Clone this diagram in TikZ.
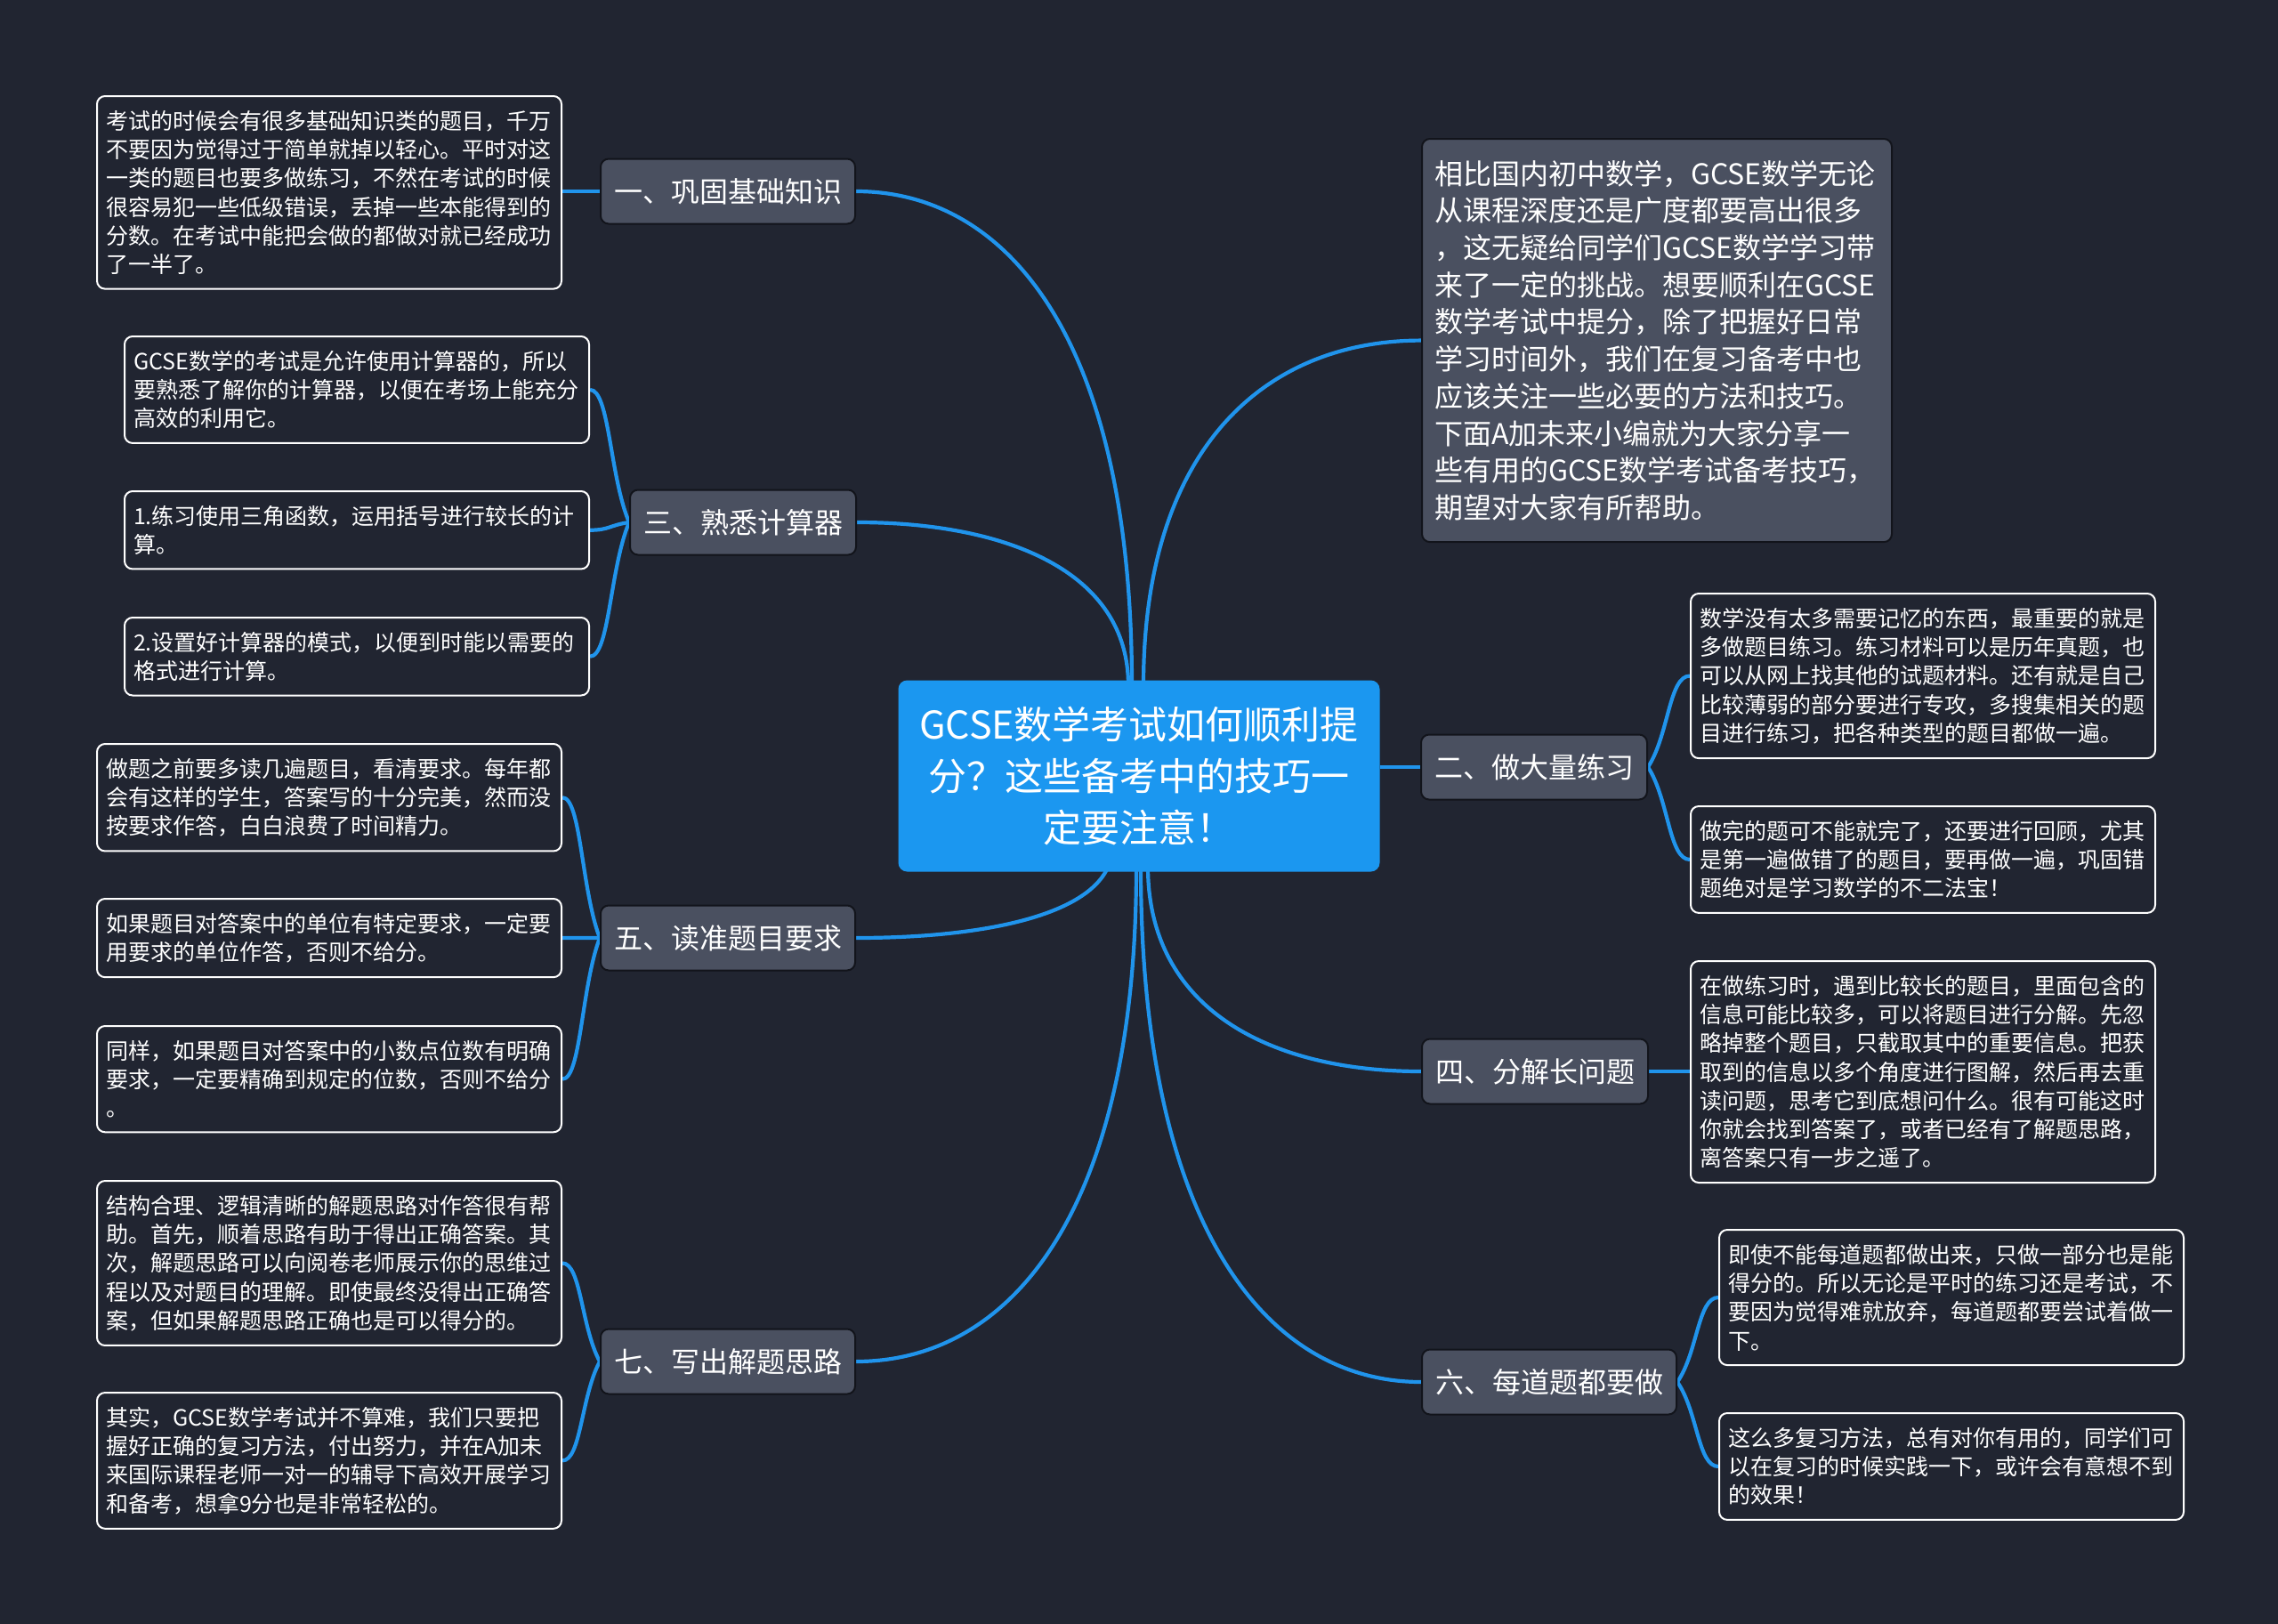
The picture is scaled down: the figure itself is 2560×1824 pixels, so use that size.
\documentclass[tikz,border=0pt]{standalone}
\usepackage{fontspec}
\setmainfont{Noto Sans CJK SC}
\usetikzlibrary{calc}
\definecolor{bgc}{RGB}{33,37,49}
\definecolor{brf}{RGB}{74,80,96}
\definecolor{brd}{RGB}{18,20,27}
\definecolor{lnc}{RGB}{32,148,236}
\definecolor{ctf}{RGB}{27,151,240}
\pgfdeclarelayer{bg}
\pgfsetlayers{bg,main}
\tikzset{
  conn/.style={draw=lnc, line width=4.2pt},
  leaf/.style={draw=white, line width=2pt, fill=bgc, rounded corners=9pt, text=white,
    align=left, text width=502pt, inner xsep=10pt, inner ysep=16pt,
    font=\fontsize{25}{32.3}\selectfont, anchor=north west},
  branch/.style={draw=brd, line width=2pt, fill=brf, rounded corners=9pt, text=white,
    minimum height=73pt, inner xsep=15pt, font=\fontsize{32}{38}\selectfont},
  intro/.style={draw=brd, line width=2pt, fill=brf, rounded corners=9pt, text=white,
    align=left, text width=500pt, inner xsep=14pt, inner ysep=24pt,
    font=\fontsize{32}{41.7}\selectfont, anchor=north west},
  centre/.style={fill=ctf, rounded corners=10pt, text=white, align=center,
    text width=500pt, minimum width=541pt, minimum height=215pt,
    font=\fontsize{43}{58}\selectfont}
}
\newcommand\ctob[2]{\draw[conn] let \p1=(#1), \p2=(#2) in (\p1) .. controls (\x1,{\y1+0.7*(\y2-\y1)}) and ({\x1+0.45*(\x2-\x1)},\y2) .. (\p2);}
\newcommand\btol[2]{\draw[conn] let \p1=(#1), \p2=(#2) in (\p1) .. controls ({0.5*\x1+0.5*\x2},{\y1+0.35*(\y2-\y1)}) and ({0.5*\x1+0.5*\x2},\y2) .. (\p2);}
\begin{document}
\begin{tikzpicture}[x=1pt,y=-1pt]
\useasboundingbox (0,0) rectangle (2560,1824);
\begin{pgfonlayer}{bg}
\fill[bgc] (-10,-10) rectangle (2570,1834);
\end{pgfonlayer}

% centre
\node[centre] (c) at (1280,872) {GCSE数学考试如何顺利提\\分？这些备考中的技巧一\\定要注意！};

% branches
\node[branch, anchor=east] (b1) at (962,215) {一、巩固基础知识};
\node[branch, anchor=east] (b3) at (963,587) {三、熟悉计算器};
\node[branch, anchor=east] (b5) at (962,1054) {五、读准题目要求};
\node[branch, anchor=east] (b7) at (962,1530) {七、写出解题思路};
\node[branch, anchor=west] (b2) at (1596,862) {二、做大量练习};
\node[branch, anchor=west] (b4) at (1597,1204) {四、分解长问题};
\node[branch, anchor=west] (b6) at (1597,1553) {六、每道题都要做};

% intro
\node[intro] (in) at (1597,155) {相比国内初中数学，GCSE数学无论\\从课程深度还是广度都要高出很多\\，这无疑给同学们GCSE数学学习带\\来了一定的挑战。想要顺利在GCSE\\数学考试中提分，除了把握好日常\\学习时间外，我们在复习备考中也\\应该关注一些必要的方法和技巧。\\下面A加未来小编就为大家分享一\\些有用的GCSE数学考试备考技巧，\\期望对大家有所帮助。};

% left leaves
\node[leaf] (l1) at (108,107) {考试的时候会有很多基础知识类的题目，千万\\不要因为觉得过于简单就掉以轻心。平时对这\\一类的题目也要多做练习，不然在考试的时候\\很容易犯一些低级错误，丢掉一些本能得到的\\分数。在考试中能把会做的都做对就已经成功\\了一半了。};
\node[leaf] (l3a) at (139,377) {GCSE数学的考试是允许使用计算器的，所以\\要熟悉了解你的计算器，以便在考场上能充分\\高效的利用它。};
\node[leaf] (l3b) at (139,551) {1.练习使用三角函数，运用括号进行较长的计\\算。};
\node[leaf] (l3c) at (139,693) {2.设置好计算器的模式，以便到时能以需要的\\格式进行计算。};
\node[leaf] (l5a) at (108,835) {做题之前要多读几遍题目，看清要求。每年都\\会有这样的学生，答案写的十分完美，然而没\\按要求作答，白白浪费了时间精力。};
\node[leaf] (l5b) at (108,1009) {如果题目对答案中的单位有特定要求，一定要\\用要求的单位作答，否则不给分。};
\node[leaf] (l5c) at (108,1152) {同样，如果题目对答案中的小数点位数有明确\\要求，一定要精确到规定的位数，否则不给分\\。};
\node[leaf] (l7a) at (108,1326) {结构合理、逻辑清晰的解题思路对作答很有帮\\助。首先，顺着思路有助于得出正确答案。其\\次，解题思路可以向阅卷老师展示你的思维过\\程以及对题目的理解。即使最终没得出正确答\\案，但如果解题思路正确也是可以得分的。};
\node[leaf] (l7b) at (108,1564) {其实，GCSE数学考试并不算难，我们只要把\\握好正确的复习方法，付出努力，并在A加未\\来国际课程老师一对一的辅导下高效开展学习\\和备考，想拿9分也是非常轻松的。};

% right leaves
\node[leaf] (r2a) at (1899,666) {数学没有太多需要记忆的东西，最重要的就是\\多做题目练习。练习材料可以是历年真题，也\\可以从网上找其他的试题材料。还有就是自己\\比较薄弱的部分要进行专攻，多搜集相关的题\\目进行练习，把各种类型的题目都做一遍。};
\node[leaf] (r2b) at (1899,905) {做完的题可不能就完了，还要进行回顾，尤其\\是第一遍做错了的题目，要再做一遍，巩固错\\题绝对是学习数学的不二法宝！};
\node[leaf] (r4) at (1899,1079) {在做练习时，遇到比较长的题目，里面包含的\\信息可能比较多，可以将题目进行分解。先忽\\略掉整个题目，只截取其中的重要信息。把获\\取到的信息以多个角度进行图解，然后再去重\\读问题，思考它到底想问什么。很有可能这时\\你就会找到答案了，或者已经有了解题思路，\\离答案只有一步之遥了。};
\node[leaf] (r6a) at (1931,1381) {即使不能每道题都做出来，只做一部分也是能\\得分的。所以无论是平时的练习还是考试，不\\要因为觉得难就放弃，每道题都要尝试着做一\\下。};
\node[leaf] (r6b) at (1931,1587) {这么多复习方法，总有对你有用的，同学们可\\以在复习的时候实践一下，或许会有意想不到\\的效果！};

% start points on the centre node
\coordinate (s1) at ($(c.north)+(-8,6)$);
\coordinate (s3) at ($(c.north)+(-12,6)$);
\coordinate (sI) at ($(c.north)+(5,6)$);
\coordinate (s5) at ($(c.south)+(-30,-28)$);
\coordinate (s7) at ($(c.south)+(-3,-6)$);
\coordinate (s4) at ($(c.south)+(10,-6)$);
\coordinate (s6) at ($(c.south)+(2,-6)$);

\begin{pgfonlayer}{bg}
\ctob{s1}{b1.east}
\ctob{s3}{b3.east}
\ctob{sI}{in.west}
\ctob{s5}{b5.east}
\ctob{s7}{b7.east}
\ctob{s4}{b4.west}
\ctob{s6}{b6.west}
\draw[conn] (c.east |- b2.west) -- (b2.west);
\draw[conn] (b1.west) -- (b1.west -| l1.east);
\btol{b3.west}{l3a.east}
\btol{b3.west}{l3b.east}
\btol{b3.west}{l3c.east}
\btol{b5.west}{l5a.east}
\btol{b5.west}{l5b.east}
\btol{b5.west}{l5c.east}
\btol{b7.west}{l7a.east}
\btol{b7.west}{l7b.east}
\btol{b2.east}{r2a.west}
\btol{b2.east}{r2b.west}
\draw[conn] (b4.east) -- (b4.east -| r4.west);
\btol{b6.east}{r6a.west}
\btol{b6.east}{r6b.west}
\end{pgfonlayer}
\end{tikzpicture}
\end{document}
